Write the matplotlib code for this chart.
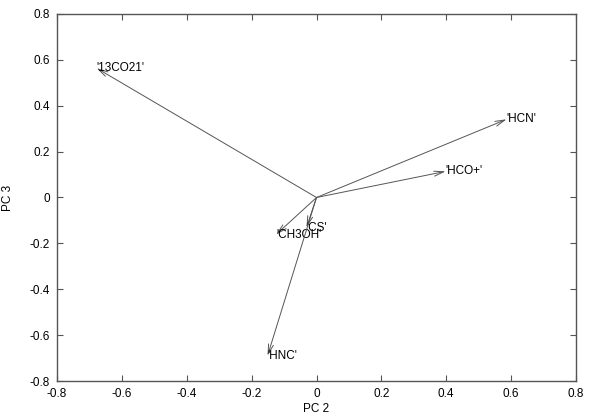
import matplotlib.pyplot as plt

plt.rcParams['font.family'] = ['Liberation Sans', 'DejaVu Sans']

# loading vectors (PC 2, PC 3)
names = ["'13CO21'", "'HCN'", "'HCO+'", "'CH3OH'", "'CS'", "'HNC'"]
pc2 = [-0.678, 0.586, 0.398, -0.125, -0.031, -0.151]
pc3 = [0.564, 0.341, 0.114, -0.162, -0.131, -0.690]

ticks = [-0.8, -0.6, -0.4, -0.2, 0, 0.2, 0.4, 0.6, 0.8]
tick_labels = ['-0.8', '-0.6', '-0.4', '-0.2', '0', '0.2', '0.4', '0.6', '0.8']

fig = plt.figure(figsize=(5.98, 4.19), dpi=100)
ax = fig.add_axes([57 / 598, 38 / 419, 519 / 598, 367 / 419])

for name, x, y in zip(names, pc2, pc3):
    ax.annotate('', xy=(x, y), xytext=(0, 0),
                arrowprops=dict(arrowstyle='->,head_length=0.7,head_width=0.18',
                                color='#555555', lw=0.7, shrinkA=0, shrinkB=0))
    ax.text(x, y, name, ha='left', va='center', fontsize=8.5, color='black')

ax.set_xlim(-0.8, 0.8)
ax.set_ylim(-0.8, 0.8)
ax.set_xticks(ticks)
ax.set_xticklabels(tick_labels)
ax.set_yticks(ticks)
ax.set_yticklabels(tick_labels)
ax.tick_params(direction='in', length=4, width=0.8, color='#555555',
               top=True, right=True, labelsize=8.5, pad=5)
for sp in ax.spines.values():
    sp.set_color('#555555')
    sp.set_linewidth(1.0)

ax.set_xlabel('PC 2', fontsize=8.5, labelpad=2)
ax.set_ylabel('PC 3', fontsize=8.5, labelpad=11)

fig.savefig('out.png', dpi=100)
